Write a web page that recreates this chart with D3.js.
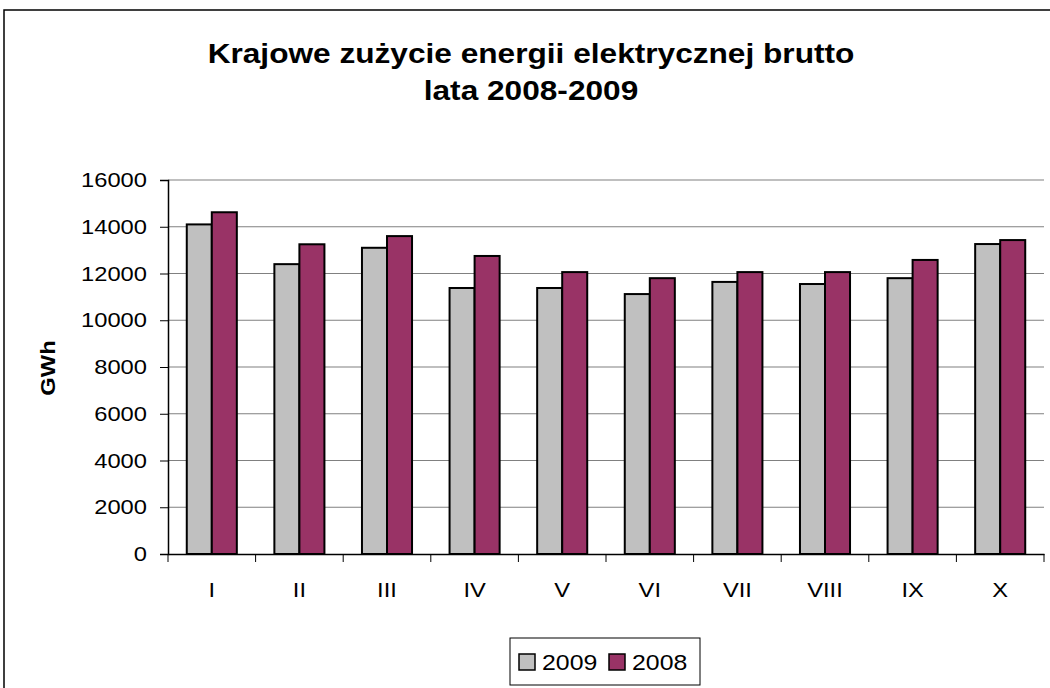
<!DOCTYPE html>
<html>
<head>
<meta charset="utf-8">
<script src="https://cdn.jsdelivr.net/npm/d3@7"></script>
<style>
  body { margin: 0; background: #fff; }
  svg { display: block; font-family: "Liberation Sans", Arial, sans-serif; }
</style>
</head>
<body>
<svg width="1050" height="688"></svg>
<script>
// dane (GWh)
var miesiace = ["I", "II", "III", "IV", "V", "VI", "VII", "VIII", "IX", "X"]
var serie = ["2009", "2008"]
var wartosci2009 = [14100, 12400, 13100, 11380, 11380, 11120, 11640, 11550, 11800, 13260]
var wartosci2008 = [14620, 13250, 13600, 12750, 12060, 11800, 12060, 12060, 12580, 13430]
var tickiY = [0, 2000, 4000, 6000, 8000, 10000, 12000, 14000, 16000]
var kolory = ["#c0c0c0", "#993366"]

var svg = d3.select("svg")
var szer = 1050, wys = 688
var k = 1.13 // rozciagniecie tekstu w poziomie

// ramka wykresu
svg.append("rect")
  .attr("x", 4).attr("y", 10)
  .attr("width", szer + 10).attr("height", wys + 10)
  .attr("fill", "#fff").attr("stroke", "#000").attr("stroke-width", 1.5)

// tytul
var tytul = svg.append("text")
  .attr("transform", "scale(" + k + ",1)")
  .attr("text-anchor", "middle")
  .attr("font-weight", "bold")
  .attr("font-size", 28)
tytul.append("tspan").attr("x", 531 / k).attr("y", 63).text("Krajowe zużycie energii elektrycznej brutto")
tytul.append("tspan").attr("x", 531 / k).attr("y", 100).text("lata 2008-2009")

var lewo = 168, prawo = 1044, gora = 180, dol = 554

var x = d3.scaleBand().domain(miesiace).range([lewo, prawo]).paddingInner(0).paddingOuter(0)
var y = d3.scaleLinear().domain([0, 16000]).range([dol, gora])

// linie siatki
svg.append("g")
  .selectAll("line")
  .data(tickiY.filter(function(d){ return d > 0 }))
  .enter().append("line")
  .attr("x1", lewo).attr("x2", prawo)
  .attr("y1", function(d){ return y(d) }).attr("y2", function(d){ return y(d) })
  .attr("stroke", "#808080").attr("stroke-width", 1.2)

// slupki - gap 150%
var grupa = x.bandwidth()
var szerSlupka = grupa / 3.5
var dane = []
miesiace.forEach(function(m, i){
  dane.push({m: m, s: 0, v: wartosci2009[i]})
  dane.push({m: m, s: 1, v: wartosci2008[i]})
})

svg.append("g")
  .selectAll("rect")
  .data(dane)
  .enter().append("rect")
  .attr("x", function(d){ return x(d.m) + szerSlupka * 0.75 + d.s * szerSlupka })
  .attr("y", function(d){ return y(d.v) })
  .attr("width", szerSlupka)
  .attr("height", function(d){ return dol - y(d.v) })
  .attr("fill", function(d){ return kolory[d.s] })
  .attr("stroke", "#000").attr("stroke-width", 2)

// os Y
var osY = svg.append("g")
  .attr("transform", "translate(" + lewo + ",0)")
  .call(d3.axisLeft(y).tickValues(tickiY).tickSize(8).tickFormat(d3.format("d")))
osY.select(".domain").attr("stroke", "#000").attr("stroke-width", 1.5)
osY.selectAll(".tick line").attr("stroke", "#000")
osY.selectAll("text")
  .attr("x", -21 / k)
  .attr("transform", "scale(" + k + ",1)")
  .attr("font-size", 21).attr("fill", "#000")
  .attr("font-family", "Liberation Sans, Arial, sans-serif")

// os X
var osX = svg.append("g")
  .attr("transform", "translate(0," + dol + ")")
  .call(d3.axisBottom(x).tickSize(0).tickPadding(28))
osX.select(".domain").attr("stroke", "#000").attr("stroke-width", 1.5)
osX.selectAll("text")
  .attr("transform", "scale(" + k + ",1)")
  .attr("font-size", 21).attr("fill", "#000")
  .attr("font-family", "Liberation Sans, Arial, sans-serif")

// znaczniki miedzy kategoriami
svg.append("g")
  .selectAll("line")
  .data(miesiace.concat(["koniec"]))
  .enter().append("line")
  .attr("x1", function(d, i){ return lewo + i * grupa })
  .attr("x2", function(d, i){ return lewo + i * grupa })
  .attr("y1", dol).attr("y2", dol + 8)
  .attr("stroke", "#000")

// podpis osi Y
svg.append("text")
  .attr("transform", "translate(55,368) rotate(-90) scale(" + k + ",1)")
  .attr("text-anchor", "middle")
  .attr("font-weight", "bold")
  .attr("font-size", 21)
  .text("GWh")

// legenda
var leg = svg.append("g")
leg.append("rect")
  .attr("x", 510).attr("y", 638).attr("width", 190).attr("height", 47)
  .attr("fill", "#fff").attr("stroke", "#000").attr("stroke-width", 1)
var pozLeg = [519, 609]
serie.forEach(function(s, i){
  leg.append("rect")
    .attr("x", pozLeg[i]).attr("y", 654).attr("width", 16).attr("height", 16)
    .attr("fill", kolory[i]).attr("stroke", "#000").attr("stroke-width", 1.5)
  leg.append("text")
    .attr("transform", "scale(" + k + ",1)")
    .attr("x", (pozLeg[i] + 23) / k).attr("y", 670)
    .attr("font-size", 22)
    .text(s)
})
</script>
</body>
</html>
